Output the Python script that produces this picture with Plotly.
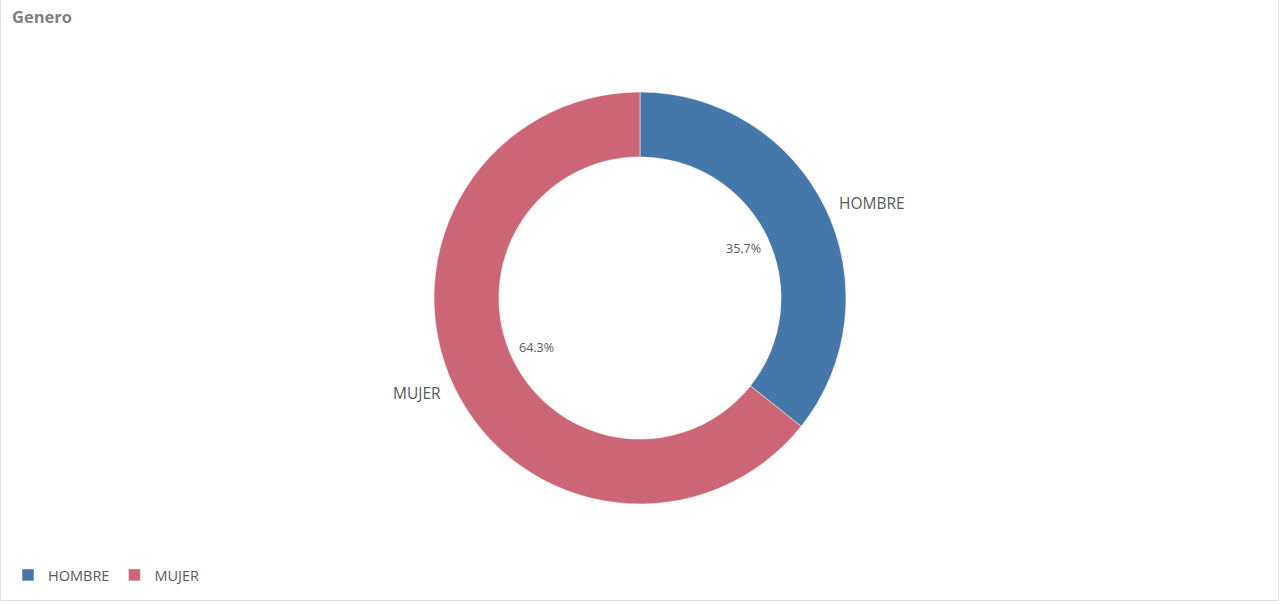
import math
import plotly.graph_objects as go

categories = ["HOMBRE", "MUJER"]
values = [35.7, 64.3]
colors = ["#4477aa", "#cc6677"]

W, H = 1281, 604
cx, cy, R_out = 640, 298, 206
hole = 0.685

def px(x):
    return x / W

def py(y):
    return 1 - y / H

fig = go.Figure(go.Pie(
    labels=categories, values=values, hole=hole, sort=False, direction="clockwise",
    rotation=0, marker=dict(colors=colors, line=dict(color="white", width=0.5)),
    textinfo="none", hoverinfo="label+percent",
    domain=dict(x=[px(cx - R_out), px(cx + R_out)], y=[py(cy + R_out), py(cy - R_out)]),
))

total = sum(values)
start = 0.0
annotations = []
for cat, v in zip(categories, values):
    mid = start + v / total * 360 / 2
    start += v / total * 360
    a = math.radians(mid)
    sx, sy = math.sin(a), -math.cos(a)
    lx, ly = cx + 219 * sx, cy + 219 * sy
    annotations.append(dict(x=px(lx), y=py(ly), xref="paper", yref="paper", text=cat,
                            showarrow=False, xanchor="left" if sx > 0 else "right", yanchor="middle",
                            font=dict(size=15.5, color="#595959")))
    tx, ty = cx + 115 * sx, cy + 115 * sy
    annotations.append(dict(x=px(tx), y=py(ty), xref="paper", yref="paper",
                            text=f"{v / total * 100:.1f}%", showarrow=False,
                            xanchor="center", yanchor="middle",
                            font=dict(size=12.5, color="#595959")))

annotations.append(dict(x=px(10), y=py(17), xref="paper", yref="paper", text="<b>Genero</b>",
                        showarrow=False, xanchor="left", yanchor="middle",
                        font=dict(size=16.5, color="#7f7f7f")))

fig.update_layout(
    width=W, height=H, margin=dict(l=0, r=0, t=0, b=0),
    paper_bgcolor="white", plot_bgcolor="white",
    font=dict(family="Open Sans, sans-serif", color="#595959"),
    annotations=annotations,
    showlegend=True,
    legend=dict(orientation="h", x=px(8), y=py(575), xanchor="left", yanchor="middle",
                font=dict(size=14.5, color="#595959"), traceorder="normal"),
    shapes=[dict(type="rect", xref="paper", yref="paper", x0=px(0.5), x1=px(1278.5),
                 y0=py(600.5), y1=py(-2), line=dict(color="#e0e0e0", width=1))],
)

fig.write_html("out.html", config={"displayModeBar": False},
               post_script="document.body.style.margin='0';document.body.style.overflow='hidden';")
